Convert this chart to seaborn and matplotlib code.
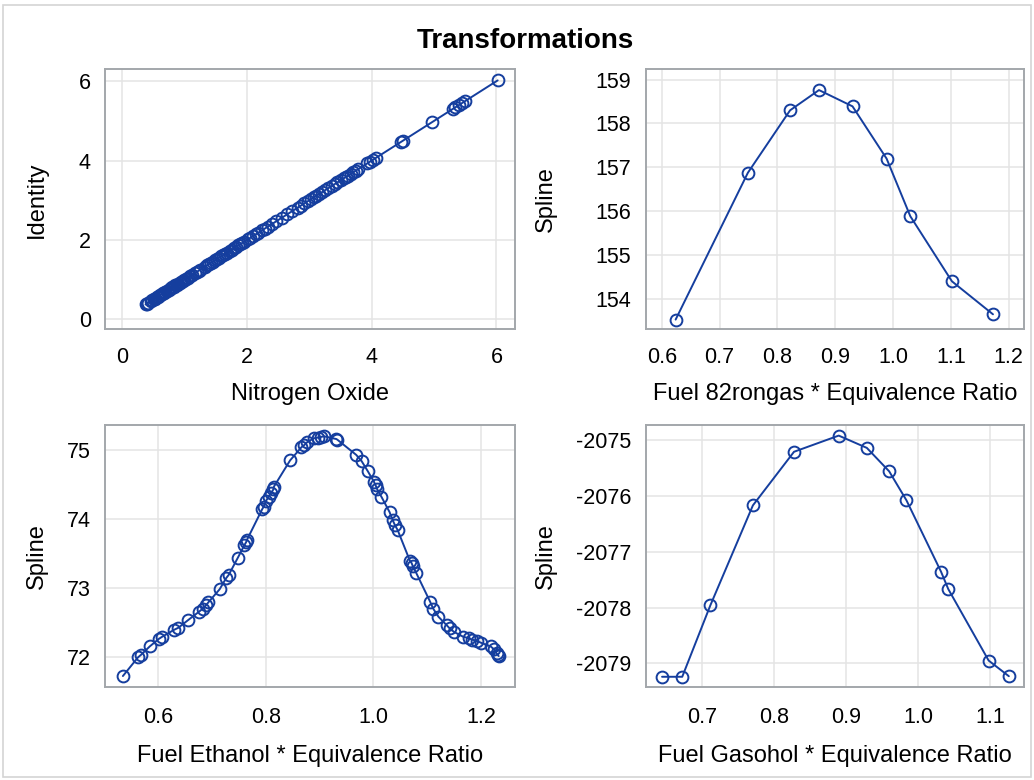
import matplotlib
matplotlib.use("Agg")
import matplotlib.pyplot as plt
import seaborn as sns
from matplotlib.patches import Rectangle

# nitrogen oxide values (identity transformation)
nox = [0.37, 0.39, 0.41, 0.45, 0.48, 0.50, 0.52, 0.55, 0.57, 0.59, 0.61, 0.63,
       0.65, 0.67, 0.69, 0.71, 0.74, 0.76, 0.78, 0.80, 0.82, 0.85, 0.87, 0.89,
       0.92, 0.94, 0.97, 0.99, 1.02, 1.05, 1.08, 1.12, 1.17, 1.20, 1.22, 1.25,
       1.32, 1.36, 1.39, 1.42, 1.45, 1.48, 1.51, 1.55, 1.58, 1.62, 1.65, 1.68,
       1.72, 1.75, 1.79, 1.82, 1.86, 1.89, 1.92, 1.95, 2.01, 2.05, 2.10, 2.15,
       2.18, 2.24, 2.28, 2.33, 2.40, 2.47, 2.56, 2.64, 2.72, 2.81, 2.86, 2.92,
       2.98, 3.02, 3.07, 3.11, 3.16, 3.20, 3.25, 3.30, 3.36, 3.41, 3.45, 3.50,
       3.55, 3.58, 3.62, 3.66, 3.70, 3.74, 3.78, 3.93, 3.97, 4.02, 4.07, 4.47,
       4.50, 4.96, 5.30, 5.34, 5.40, 5.44, 5.49, 6.02]

# 82rongas spline
eq_82 = [0.624, 0.749, 0.822, 0.872, 0.930, 0.989, 1.030, 1.102, 1.173]
spl_82 = [153.54, 156.88, 158.30, 158.76, 158.39, 157.20, 155.89, 154.41, 153.66]

# ethanol spline
eq_eth = [0.534, 0.562, 0.568, 0.584, 0.601, 0.607, 0.629, 0.637, 0.655, 0.675,
          0.683, 0.689, 0.693, 0.714, 0.726, 0.731, 0.748, 0.760, 0.763, 0.765,
          0.793, 0.796, 0.800, 0.805, 0.809, 0.814, 0.815, 0.845, 0.866, 0.871,
          0.876, 0.889, 0.896, 0.902, 0.908, 0.931, 0.933, 0.968, 0.978, 0.989,
          1.001, 1.004, 1.007, 1.015, 1.030, 1.036, 1.040, 1.045, 1.068, 1.071,
          1.073, 1.080, 1.106, 1.111, 1.121, 1.136, 1.142, 1.150, 1.167, 1.177,
          1.183, 1.192, 1.201, 1.218, 1.224, 1.229, 1.232, 1.233]
spl_eth = [71.72, 71.99, 72.03, 72.15, 72.26, 72.29, 72.39, 72.42, 72.53, 72.65,
           72.70, 72.75, 72.79, 72.98, 73.14, 73.19, 73.44, 73.62, 73.66, 73.70,
           74.14, 74.18, 74.26, 74.32, 74.37, 74.43, 74.47, 74.85, 75.04, 75.07,
           75.11, 75.17, 75.18, 75.19, 75.20, 75.16, 75.15, 74.93, 74.84, 74.70,
           74.54, 74.49, 74.43, 74.32, 74.10, 73.98, 73.91, 73.84, 73.39, 73.36,
           73.32, 73.21, 72.79, 72.70, 72.58, 72.46, 72.41, 72.36, 72.29, 72.27,
           72.25, 72.23, 72.20, 72.15, 72.11, 72.05, 72.02, 72.01]

# gasohol spline
eq_gas = [0.645, 0.673, 0.712, 0.771, 0.828, 0.890, 0.929, 0.960, 0.984, 1.032,
          1.042, 1.098, 1.126]
spl_gas = [-2079.24, -2079.24, -2077.96, -2076.17, -2075.21, -2074.92, -2075.14,
           -2075.56, -2076.08, -2077.36, -2077.67, -2078.95, -2079.23]

sns.set_style("white")
plt.rcParams['font.family'] = ['Liberation Sans', 'DejaVu Sans']
plt.rcParams['axes.unicode_minus'] = False
plt.rcParams['text.color'] = 'black'
plt.rcParams['axes.labelcolor'] = 'black'
plt.rcParams['xtick.labelcolor'] = 'black'
plt.rcParams['ytick.labelcolor'] = 'black'

line_col = "#153E9E"
frame_col = "#A3A7AB"
grid_col = "#E4E4E4"

fig = plt.figure(figsize=(10.34, 7.8), dpi=100)
fig.patches.append(Rectangle((0.003, 0.004), 0.994, 0.989, transform=fig.transFigure,
                             fill=False, edgecolor="#D4D4D4", linewidth=1.2))
fig.text(0.508, 0.948, "Transformations", ha="center", va="center",
         fontsize=20, fontweight="bold")

panels = [
    dict(rect=[0.102, 0.5776, 0.396, 0.3333], x=nox, y=nox,
         xlim=(-0.273, 6.297), ylim=(-0.26, 6.295),
         xt=[0, 2, 4, 6], yt=[0, 2, 4, 6], fmt="{:.0f}",
         xl="Nitrogen Oxide", yl="Identity", ylx=-0.141, xly=-0.205, pad=6),
    dict(rect=[0.6248, 0.5776, 0.3656, 0.3333], x=eq_82, y=spl_82,
         xlim=(0.5728, 1.2268), ylim=(153.315, 159.228),
         xt=[0.6, 0.7, 0.8, 0.9, 1.0, 1.1, 1.2], yt=[154, 155, 156, 157, 158, 159],
         fmt="{:.1f}", xl="Fuel 82rongas * Equivalence Ratio", yl="Spline",
         ylx=-0.235, xly=-0.205, pad=6),
    dict(rect=[0.102, 0.1196, 0.396, 0.3359], x=eq_eth, y=spl_eth,
         xlim=(0.5016, 1.2632), ylim=(71.565, 75.368),
         xt=[0.6, 0.8, 1.0, 1.2], yt=[72, 73, 74, 75],
         fmt="{:.1f}", xl="Fuel Ethanol * Equivalence Ratio", yl="Spline",
         ylx=-0.141, xly=-0.222, pad=8),
    dict(rect=[0.6248, 0.1196, 0.3656, 0.3359], x=eq_gas, y=spl_gas,
         xlim=(0.6228, 1.1471), ylim=(-2079.418, -2074.725),
         xt=[0.7, 0.8, 0.9, 1.0, 1.1], yt=[-2079, -2078, -2077, -2076, -2075],
         fmt="{:.1f}", xl="Fuel Gasohol * Equivalence Ratio", yl="Spline",
         ylx=-0.235, xly=-0.222, pad=8),
]

for p in panels:
    ax = fig.add_axes(p["rect"])
    sns.lineplot(x=p["x"], y=p["y"], ax=ax, estimator=None, sort=False,
                 color=line_col, linewidth=1.4, marker="o", markersize=8.5,
                 markerfacecolor="none", markeredgecolor=line_col,
                 markeredgewidth=1.4)
    ax.set_xlim(*p["xlim"])
    ax.set_ylim(*p["ylim"])
    ax.set_xticks(p["xt"])
    ax.set_xticklabels([p["fmt"].format(v) for v in p["xt"]])
    ax.set_yticks(p["yt"])
    ax.set_yticklabels([str(v) for v in p["yt"]])
    ax.grid(True, color=grid_col, linewidth=1.1)
    ax.set_axisbelow(True)
    for s in ax.spines.values():
        s.set_color(frame_col)
        s.set_linewidth(1.4)
        s.set_visible(True)
    ax.tick_params(axis="both", direction="out", length=6.5, width=1,
                   color=frame_col, labelsize=15.5, labelcolor="black")
    ax.tick_params(axis="x", pad=p["pad"])
    ax.tick_params(axis="y", pad=4)
    ax.set_xlabel(p["xl"], fontsize=17, color="black")
    ax.set_ylabel(p["yl"], fontsize=17, color="black")
    ax.xaxis.set_label_coords(0.5, p["xly"])
    ax.yaxis.set_label_coords(p["ylx"], 0.5)

fig.savefig("out.png", dpi=100)
